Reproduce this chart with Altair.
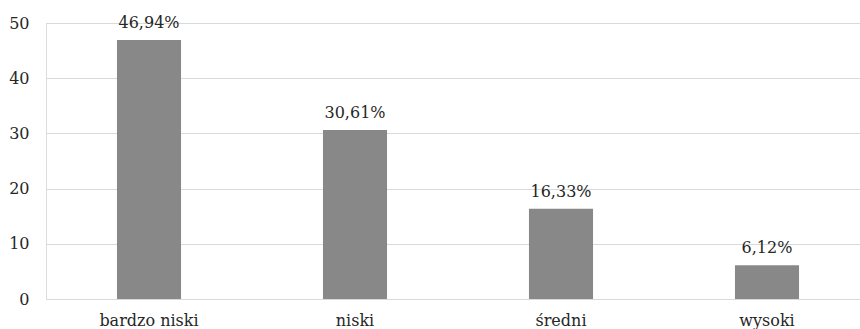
import altair as alt
import pandas as pd

categories = ["bardzo niski", "niski", "średni", "wysoki"]
values = [46.94, 30.61, 16.33, 6.12]
labels = ["46,94%", "30,61%", "16,33%", "6,12%"]

df = pd.DataFrame({"cat": categories, "val": values, "lab": labels})

FONT = "DejaVu Serif"
FS = 16
TXT = "#262626"

x = alt.X("cat:N", sort=categories, title=None,
          scale=alt.Scale(range=[0, 824], paddingInner=0.689, paddingOuter=0.3445),
          axis=alt.Axis(labelAngle=0, domain=False, ticks=False, labelPadding=13,
                        labelFont=FONT, labelFontSize=FS, labelColor=TXT, grid=False))
y = alt.Y("val:Q", title=None,
          scale=alt.Scale(domain=[0, 50], nice=False),
          axis=alt.Axis(values=[0, 10, 20, 30, 40, 50], domain=False, ticks=False,
                        labelPadding=17, labelFont=FONT, labelFontSize=FS, labelColor=TXT,
                        gridColor="#d9d9d9", gridWidth=1))

bars = alt.Chart(df).mark_bar(color="#888888").encode(x=x, y=y)
text = alt.Chart(df).mark_text(baseline="alphabetic", dy=-12, font=FONT, fontSize=FS,
                               color=TXT).encode(x=alt.X("cat:N", sort=categories),
                                                 y="val:Q", text="lab:N")

chart = (bars + text).properties(
    width=814, height=276,
    autosize=alt.AutoSizeParams(type="none"),
    padding={"left": 46, "top": 23, "right": 0, "bottom": 30},
).configure_view(stroke=None).configure(background="white", font=FONT)

chart.save("out.html", embed_options={"renderer": "svg", "actions": False})
